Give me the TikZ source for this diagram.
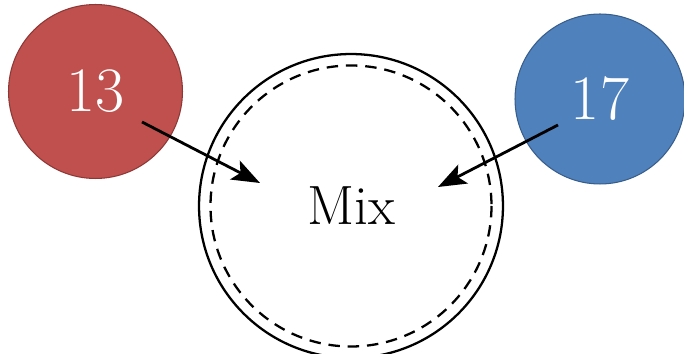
\documentclass[tikz,border=0pt]{standalone}
\usepackage{amsmath}
\usepackage{tikz}
\usetikzlibrary{arrows.meta}

\definecolor{ballred}{RGB}{192,80,77}
\definecolor{ballredline}{RGB}{140,56,54}
\definecolor{ballblue}{RGB}{79,129,189}
\definecolor{ballblueline}{RGB}{56,93,138}

\tikzset{
  ball/.style={circle, minimum size=#1, inner sep=0pt, line width=0.6pt,
    text=white, font=\fontsize{36}{40}\selectfont},
  pot/.style={circle, draw, line width=1.3pt, minimum size=6.08cm, inner sep=0pt,
    font=\fontsize{31.5}{35}\selectfont},
  feed/.style={line width=1.6pt, -{Stealth[length=16pt,width=12pt,inset=3.5pt]}}
}

\begin{document}
\begin{tikzpicture}[x=0.02cm,y=-0.02cm]
  \useasboundingbox (0,0) rectangle (684,354);
  % the two numbers
  \node[ball=3.48cm, fill=ballred, draw=ballredline] (thirteen) at (95.5,91.5) {13};
  \node[ball=3.4cm, fill=ballblue, draw=ballblueline] (seventeen) at (600,99) {17};
  % the mixing pot
  \node[pot] (mix) at (351,206) {Mix};
  \draw[line width=1.3pt, dash pattern=on 6.5pt off 4.5pt] (mix.center) circle[radius=140.5];
  % arrows into the pot
  \coordinate (redout) at (142,122);
  \coordinate (redin) at (260,183);
  \coordinate (blueout) at (558,125);
  \coordinate (bluein) at (438,187);
  \draw[feed] (redout) -- (redin);
  \draw[feed] (blueout) -- (bluein);
\end{tikzpicture}
\end{document}
